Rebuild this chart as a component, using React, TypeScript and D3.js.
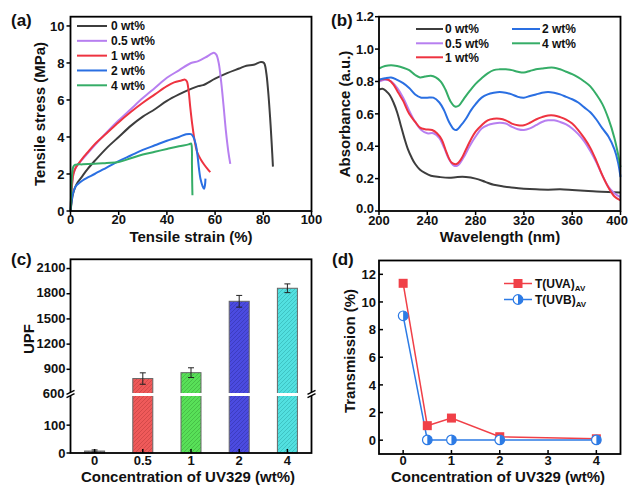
import React from 'react';
import * as d3 from 'd3';

type P = [number, number];

const FONT = "'Liberation Sans', Arial, Helvetica, sans-serif";

// ---------- Panel (a) data ----------
const strainTicks = [0, 20, 40, 60, 80, 100];
const stressTicks = [0, 2, 4, 6, 8, 10];
const tensileLabels = ['0 wt%', '0.5 wt%', '1 wt%', '2 wt%', '4 wt%'];
const tensile0: P[] = [[0,0],[0.5,0.5],[1,0.9],[2,1.3],[3,1.55],[5,1.9],[7,2.25],[10,2.7],[15,3.4],[20,4.0],[25,4.6],[30,5.1],[35,5.5],[40,5.95],[45,6.3],[50,6.6],[53,6.75],[55,6.8],[60,7.15],[65,7.45],[70,7.7],[73,7.85],[76,7.9],[79,8.05],[80.3,8.0],[81.2,7.5],[82,6.5],[82.8,5.1],[83.5,3.6],[84,2.4]];
const tensile05: P[] = [[0,0],[0.3,0.8],[0.7,1.5],[1.2,2.0],[2,2.3],[3,2.5],[5,2.8],[7,3.1],[10,3.55],[15,4.25],[20,4.9],[25,5.5],[30,6.1],[35,6.65],[40,7.2],[45,7.6],[50,8.0],[53,8.1],[56,8.3],[58.5,8.5],[59.5,8.55],[60.5,8.45],[61.5,8.0],[62.5,7.0],[63.5,5.7],[64.5,4.3],[65.5,3.2],[66.3,2.55]];
const tensile1: P[] = [[0,0],[0.3,0.8],[0.7,1.5],[1.2,2.0],[2,2.3],[3,2.5],[5,2.85],[7,3.15],[10,3.6],[15,4.2],[20,4.8],[25,5.35],[30,5.85],[35,6.3],[40,6.75],[43,6.95],[46,7.05],[47.5,7.1],[48.3,7.0],[49,6.5],[49.7,5.6],[50.5,4.7],[51.5,3.8],[52.5,3.2],[54,2.8],[55.5,2.5],[57,2.25],[58,2.1]];
const tensile2: P[] = [[0,0],[0.5,0.6],[1,0.95],[2,1.3],[3,1.45],[5,1.65],[7,1.8],[10,2.0],[15,2.35],[20,2.7],[25,3.0],[30,3.3],[35,3.55],[40,3.8],[45,4.0],[48,4.15],[50,4.15],[51,4.0],[52,3.6],[52.7,3.0],[53.3,2.3],[54,1.7],[54.8,1.35],[55.4,1.2],[55.8,1.4],[56,1.75]];
const tensile4: P[] = [[0,0],[0.3,1.0],[0.7,2.0],[1.2,2.4],[2,2.5],[3,2.52],[5,2.52],[10,2.55],[15,2.6],[20,2.65],[25,2.85],[30,3.05],[35,3.2],[40,3.35],[45,3.5],[49,3.6],[50,3.65],[50.3,3.5],[50.4,2.5],[50.5,1.5],[50.6,0.85]];
const tensileData = [tensile0, tensile05, tensile1, tensile2, tensile4];

// ---------- Panel (b) data ----------
const waveTicks = [200, 240, 280, 320, 360, 400];
const absTicks = [0, 0.2, 0.4, 0.6, 0.8, 1.0, 1.2];
const abs0: P[] = [[200,0.75],[203,0.755],[206,0.74],[209,0.715],[212,0.67],[215,0.61],[218,0.53],[221,0.45],[224,0.38],[227,0.33],[230,0.29],[234,0.255],[238,0.235],[243,0.218],[250,0.21],[258,0.205],[265,0.21],[272,0.21],[280,0.2],[288,0.18],[295,0.162],[303,0.152],[312,0.143],[320,0.138],[330,0.134],[340,0.132],[350,0.134],[360,0.13],[370,0.125],[380,0.12],[390,0.117],[400,0.115]];
const abs05: P[] = [[200,0.8],[205,0.81],[210,0.8],[215,0.76],[220,0.7],[225,0.62],[230,0.55],[235,0.5],[240,0.48],[245,0.48],[250,0.45],[254,0.39],[258,0.32],[262,0.28],[265,0.28],[270,0.33],[275,0.4],[280,0.46],[285,0.51],[290,0.53],[295,0.54],[300,0.545],[305,0.54],[310,0.52],[315,0.505],[320,0.5],[325,0.51],[330,0.53],[335,0.55],[340,0.56],[345,0.56],[350,0.55],[355,0.535],[360,0.51],[365,0.475],[370,0.43],[375,0.37],[380,0.3],[385,0.22],[390,0.15],[395,0.11],[400,0.085]];
const abs1: P[] = [[200,0.81],[205,0.815],[208,0.81],[212,0.78],[216,0.73],[220,0.68],[225,0.6],[230,0.55],[234,0.515],[238,0.505],[244,0.5],[248,0.48],[252,0.44],[256,0.36],[260,0.3],[264,0.29],[268,0.32],[272,0.38],[276,0.44],[280,0.49],[285,0.53],[290,0.56],[295,0.57],[300,0.57],[305,0.56],[310,0.54],[315,0.53],[320,0.53],[325,0.545],[330,0.565],[335,0.58],[340,0.59],[345,0.59],[350,0.58],[355,0.565],[360,0.54],[365,0.5],[370,0.45],[375,0.39],[380,0.31],[385,0.22],[390,0.145],[395,0.09],[400,0.065]];
const abs2: P[] = [[200,0.81],[205,0.82],[210,0.825],[215,0.81],[220,0.79],[225,0.76],[230,0.72],[235,0.7],[240,0.7],[245,0.7],[250,0.67],[254,0.62],[258,0.55],[262,0.505],[264,0.5],[268,0.53],[272,0.57],[276,0.62],[280,0.66],[285,0.7],[290,0.72],[295,0.73],[300,0.735],[305,0.73],[310,0.72],[315,0.705],[320,0.7],[325,0.71],[330,0.72],[335,0.73],[340,0.735],[345,0.73],[350,0.72],[355,0.705],[360,0.69],[365,0.67],[370,0.64],[375,0.61],[380,0.565],[385,0.51],[390,0.46],[395,0.38],[398,0.3],[400,0.21]];
const abs4: P[] = [[200,0.88],[205,0.895],[210,0.9],[215,0.895],[220,0.885],[225,0.87],[230,0.84],[234,0.825],[238,0.83],[243,0.835],[247,0.825],[251,0.8],[255,0.75],[259,0.68],[263,0.645],[266,0.65],[270,0.69],[275,0.74],[280,0.785],[285,0.82],[290,0.85],[295,0.87],[300,0.875],[305,0.875],[310,0.87],[315,0.86],[320,0.855],[325,0.865],[330,0.875],[335,0.88],[340,0.885],[345,0.885],[350,0.875],[355,0.86],[360,0.845],[365,0.825],[370,0.8],[375,0.77],[380,0.72],[385,0.66],[390,0.57],[395,0.45],[398,0.35],[400,0.27]];
const absData = [abs0, abs05, abs1, abs2, abs4];

// ---------- Panel (c) data ----------
const upfCategories = ['0', '0.5', '1', '2', '4'];
const upfValues = [7, 790, 860, 1710, 1865];
const upfErrors = [4, 68, 58, 70, 52];
const upfLowTicks = [0, 100];
const upfHighTicks = [600, 900, 1200, 1500, 1800, 2100];

// ---------- Panel (d) data ----------
const concValues = [0, 0.5, 1, 2, 4];
const concTicks = [0, 1, 2, 3, 4];
const transTicks = [0, 2, 4, 6, 8, 10, 12];
const uvaValues = [11.35, 1.05, 1.6, 0.25, 0.1];
const uvbValues = [9.0, 0.02, 0.02, 0.02, 0.02];

// ---------- styles ----------
const seriesColors = ['#3d3d3d', '#b77ff0', '#ee3340', '#2a6fe2', '#35ad67'];
const barColors = ['#8a8a8a', '#ef5a5a', '#58e058', '#4b4be0', '#52e0e0'];
const hatchColors = ['#555555', '#b53a3a', '#35a035', '#2f2fa0', '#2aa5a5'];
const uvaColor = '#f04048';
const uvbColor = '#2d7be5';

const tickStyle = { fontFamily: FONT, fontWeight: 700, fontSize: 13, fill: '#111' } as const;
const titleStyle = { fontFamily: FONT, fontWeight: 700, fontSize: 15, fill: '#111' } as const;
const legendStyle = { fontFamily: FONT, fontWeight: 700, fontSize: 12, fill: '#111' } as const;
const panelStyle = { fontFamily: FONT, fontWeight: 700, fontSize: 17, fill: '#111' } as const;

const FRAME_W = 1.8;

function Frame({ x0, x1, y0, y1 }: { x0: number; x1: number; y0: number; y1: number }) {
  return <rect x={x0} y={y0} width={x1 - x0} height={y1 - y0} fill="none" stroke="#000" strokeWidth={FRAME_W} />;
}

function PanelA() {
  const x0 = 70.5, x1 = 311.5, y0 = 16.7, y1 = 211;
  const x = d3.scaleLinear().domain([0, 100]).range([x0, x1]);
  const y = d3.scaleLinear().domain([0, 10.5]).range([y1, y0]);
  const line = d3.line<P>().x(d => x(d[0])).y(d => y(d[1])).curve(d3.curveCatmullRom.alpha(0.5));
  const legY = d3.scaleLinear().domain([0, 4]).range([26, 85.3]);
  return (
    <g>
      {tensileData.map((d, i) => (
        <path key={i} d={line(d) || ''} fill="none" stroke={seriesColors[i]} strokeWidth={2} strokeLinejoin="round" />
      ))}
      <Frame x0={x0} x1={x1} y0={y0} y1={y1} />
      {strainTicks.map(t => (
        <g key={t}>
          <line x1={x(t)} x2={x(t)} y1={y1} y2={y1 + 4} stroke="#000" strokeWidth={1.5} />
          <text x={x(t)} y={224} textAnchor="middle" style={tickStyle}>{t}</text>
        </g>
      ))}
      {stressTicks.map(t => (
        <g key={t}>
          <line x1={x0 - 4} x2={x0} y1={y(t)} y2={y(t)} stroke="#000" strokeWidth={1.5} />
          <text x={x0 - 6} y={y(t)} dy="0.36em" textAnchor="end" style={tickStyle}>{t}</text>
        </g>
      ))}
      {tensileLabels.map((l, i) => (
        <g key={l}>
          <line x1={77} x2={107} y1={legY(i)} y2={legY(i)} stroke={seriesColors[i]} strokeWidth={2} />
          <text x={111} y={legY(i)} dy="0.36em" style={legendStyle}>{l}</text>
        </g>
      ))}
      <text x={191} y={241.5} textAnchor="middle" style={titleStyle}>Tensile strain (%)</text>
      <text transform="translate(45,114) rotate(-90)" textAnchor="middle" style={titleStyle}>Tensile stress (MPa)</text>
      <text x={11} y={26} style={panelStyle}>(a)</text>
    </g>
  );
}

function PanelB() {
  const x0 = 379, x1 = 620.5, y0 = 16.7, y1 = 211;
  const x = d3.scaleLinear().domain([200, 400]).range([x0, x1]);
  const y = d3.scaleLinear().domain([0, 1.2]).range([y1, y0]);
  const line = d3.line<P>().x(d => x(d[0])).y(d => y(d[1])).curve(d3.curveCatmullRom.alpha(0.5));
  const legRows = [29, 43.3, 57.3];
  const legPos = tensileLabels.map((_, i) => i < 3
    ? { lx0: 416, lx1: 443, tx: 445, y: legRows[i] }
    : { lx0: 512, lx1: 540, tx: 542, y: legRows[i - 3] });
  const lastTick = waveTicks[waveTicks.length - 1];
  return (
    <g>
      {absData.map((d, i) => (
        <path key={i} d={line(d) || ''} fill="none" stroke={seriesColors[i]} strokeWidth={2} strokeLinejoin="round" />
      ))}
      <Frame x0={x0} x1={x1} y0={y0} y1={y1} />
      {waveTicks.map(t => (
        <g key={t}>
          <line x1={x(t)} x2={x(t)} y1={y1} y2={y1 + 4} stroke="#000" strokeWidth={1.5} />
          <text x={t === lastTick ? 628 : x(t)} y={225} textAnchor={t === lastTick ? 'end' : 'middle'} style={tickStyle}>{t}</text>
        </g>
      ))}
      {absTicks.map(t => (
        <g key={t}>
          <line x1={x0 - 4} x2={x0} y1={y(t)} y2={y(t)} stroke="#000" strokeWidth={1.5} />
          <text x={x0 - 5} y={y(t) - (t === 0 ? 3 : 0)} dy="0.36em" textAnchor="end" style={tickStyle}>{t.toFixed(1)}</text>
        </g>
      ))}
      {tensileLabels.map((l, i) => (
        <g key={l}>
          <line x1={legPos[i].lx0} x2={legPos[i].lx1} y1={legPos[i].y} y2={legPos[i].y} stroke={seriesColors[i]} strokeWidth={2} />
          <text x={legPos[i].tx} y={legPos[i].y} dy="0.36em" style={legendStyle}>{l}</text>
        </g>
      ))}
      <text x={500} y={241.5} textAnchor="middle" style={titleStyle}>Wavelength (nm)</text>
      <text transform="translate(350,114) rotate(-90)" textAnchor="middle" style={titleStyle}>Absorbance (a.u.)</text>
      <text x={331} y={26} style={panelStyle}>(b)</text>
    </g>
  );
}

function PanelC() {
  const x0 = 70.5, x1 = 311.5, y0 = 259.3, y1 = 453;
  const yBreak = 394.5;
  const x = d3.scaleBand<string>().domain(upfCategories).range([x0, x1]).paddingInner(0.585).paddingOuter(0.2925);
  const yLow = d3.scaleLinear().domain([0, 210]).range([y1, yBreak]);
  const yHigh = d3.scaleLinear().domain([600, 2210]).range([yBreak, y0]);
  const yv = (v: number) => (v >= 600 ? yHigh(v) : yLow(v));
  const bw = x.bandwidth();
  const breakMark = (ax: number) => (
    <g key={ax}>
      <polygon points={`${ax - 4},${yBreak + 3} ${ax + 4},${yBreak - 1} ${ax + 4},${yBreak - 4} ${ax - 4},${yBreak}`} fill="#fff" />
      <line x1={ax - 4} y1={yBreak + 3.2} x2={ax + 4} y2={yBreak - 0.8} stroke="#000" strokeWidth={1.3} />
      <line x1={ax - 4} y1={yBreak - 0.2} x2={ax + 4} y2={yBreak - 4.2} stroke="#000" strokeWidth={1.3} />
    </g>
  );
  return (
    <g>
      <defs>
        {barColors.map((c, i) => (
          <pattern key={i} id={`hatch${i}`} patternUnits="userSpaceOnUse" width={4} height={4}>
            <rect width={4} height={4} fill={c} />
            <path d="M-1,1 l2,-2 M0,4 l4,-4 M3,5 l2,-2" stroke={hatchColors[i]} strokeWidth={0.7} strokeOpacity={0.7} />
          </pattern>
        ))}
      </defs>
      {upfCategories.map((c, i) => (
        <rect key={c} x={x(c)} y={yv(upfValues[i])} width={bw} height={y1 - yv(upfValues[i])}
          fill={`url(#hatch${i})`} stroke="#666" strokeWidth={1} />
      ))}
      {upfCategories.map((c, i) => {
        const cx = (x(c) || 0) + bw / 2;
        const top = yv(upfValues[i] + upfErrors[i]);
        const bot = yv(upfValues[i] - upfErrors[i]);
        return (
          <g key={c} stroke="#222" strokeWidth={1}>
            <line x1={cx} x2={cx} y1={top} y2={bot} />
            <line x1={cx - 3} x2={cx + 3} y1={top} y2={top} />
            <line x1={cx - 3} x2={cx + 3} y1={bot} y2={bot} />
          </g>
        );
      })}
      <Frame x0={x0} x1={x1} y0={y0} y1={y1} />
      <rect x={x0 + 1} y={yBreak - 1.5} width={x1 - x0 - 2} height={3} fill="#fff" />
      {breakMark(x0)}
      {breakMark(x1)}
      {upfCategories.map(c => {
        const cx = (x(c) || 0) + bw / 2;
        return (
          <g key={c}>
            <line x1={cx} x2={cx} y1={y1} y2={y1 - 4} stroke="#000" strokeWidth={1.5} />
            <text x={cx} y={464.5} textAnchor="middle" style={tickStyle}>{c}</text>
          </g>
        );
      })}
      {upfLowTicks.map(t => (
        <g key={t}>
          <line x1={x0 - 4} x2={x0} y1={yLow(t)} y2={yLow(t)} stroke="#000" strokeWidth={1.5} />
          <text x={x0 - 5} y={yLow(t)} dy="0.36em" textAnchor="end" style={tickStyle}>{t}</text>
        </g>
      ))}
      {upfHighTicks.map(t => (
        <g key={t}>
          {t > 600 && <line x1={x0 - 4} x2={x0} y1={yHigh(t)} y2={yHigh(t)} stroke="#000" strokeWidth={1.5} />}
          <text x={t === 600 ? x0 - 6 : x0 - 5} y={yHigh(t) - 1} dy="0.36em" textAnchor="end" style={tickStyle}>{t}</text>
        </g>
      ))}
      <text x={188} y={481.5} textAnchor="middle" style={titleStyle}>Concentration of UV329 (wt%)</text>
      <text transform="translate(34,339) rotate(-90)" textAnchor="middle" style={titleStyle}>UPF</text>
      <text x={11} y={265} style={panelStyle}>(c)</text>
    </g>
  );
}

function HalfCircle({ cx, cy, r }: { cx: number; cy: number; r: number }) {
  return (
    <g>
      <circle cx={cx} cy={cy} r={r} fill="#fff" stroke={uvbColor} strokeWidth={1.2} />
      <path d={`M${cx},${cy - r} A${r},${r} 0 0 1 ${cx},${cy + r} Z`} fill={uvbColor} />
    </g>
  );
}

function PanelD() {
  const x0 = 379, x1 = 620.5, y0 = 260.5, y1 = 454;
  const x = d3.scaleLinear().domain([-0.5, 4.5]).range([x0, x1]);
  const y = d3.scaleLinear().domain([-1, 13]).range([y1, y0]);
  const line = d3.line<number>().x((_, i) => x(concValues[i])).y(d => y(d));
  const sq = 9;
  return (
    <g>
      <path d={line(uvaValues) || ''} fill="none" stroke={uvaColor} strokeWidth={1.5} />
      <path d={line(uvbValues) || ''} fill="none" stroke={uvbColor} strokeWidth={1.5} />
      {uvaValues.map((v, i) => (
        <rect key={i} x={x(concValues[i]) - sq / 2} y={y(v) - sq / 2} width={sq} height={sq} fill={uvaColor} />
      ))}
      {uvbValues.map((v, i) => (
        <HalfCircle key={i} cx={x(concValues[i])} cy={y(v)} r={4.8} />
      ))}
      <Frame x0={x0} x1={x1} y0={y0} y1={y1} />
      {concTicks.map(t => (
        <g key={t}>
          <line x1={x(t)} x2={x(t)} y1={y1} y2={y1 - 4} stroke="#000" strokeWidth={1.5} />
          <text x={x(t)} y={464.5} textAnchor="middle" style={tickStyle}>{t}</text>
        </g>
      ))}
      {transTicks.map(t => (
        <g key={t}>
          <line x1={x0} x2={x0 + 4} y1={y(t)} y2={y(t)} stroke="#000" strokeWidth={1.5} />
          <text x={x0 - 3} y={y(t)} dy="0.36em" textAnchor="end" style={tickStyle}>{t}</text>
        </g>
      ))}
      <g>
        <line x1={504} x2={532} y1={283.5} y2={283.5} stroke={uvaColor} strokeWidth={1.5} />
        <rect x={518 - sq / 2} y={283.5 - sq / 2} width={sq} height={sq} fill={uvaColor} />
        <text x={535} y={283.5} dy="0.36em" style={legendStyle}>T(UVA)<tspan fontSize={8} dy={3}>AV</tspan></text>
        <line x1={504} x2={532} y1={299.5} y2={299.5} stroke={uvbColor} strokeWidth={1.5} />
        <HalfCircle cx={518} cy={299.5} r={4.8} />
        <text x={535} y={299.5} dy="0.36em" style={legendStyle}>T(UVB)<tspan fontSize={8} dy={3}>AV</tspan></text>
      </g>
      <text x={498} y={481.5} textAnchor="middle" style={titleStyle}>Concentration of UV329 (wt%)</text>
      <text transform="translate(355,351) rotate(-90)" textAnchor="middle" style={titleStyle}>Transmission (%)</text>
      <text x={332} y={265} style={panelStyle}>(d)</text>
    </g>
  );
}

export default function App() {
  return (
    <svg width={629} height={485} viewBox="0 0 629 485" style={{ position: 'absolute', left: 0, top: 0, background: '#fff' }}>
      <rect width={629} height={485} fill="#fff" />
      <PanelA />
      <PanelB />
      <PanelC />
      <PanelD />
    </svg>
  );
}
